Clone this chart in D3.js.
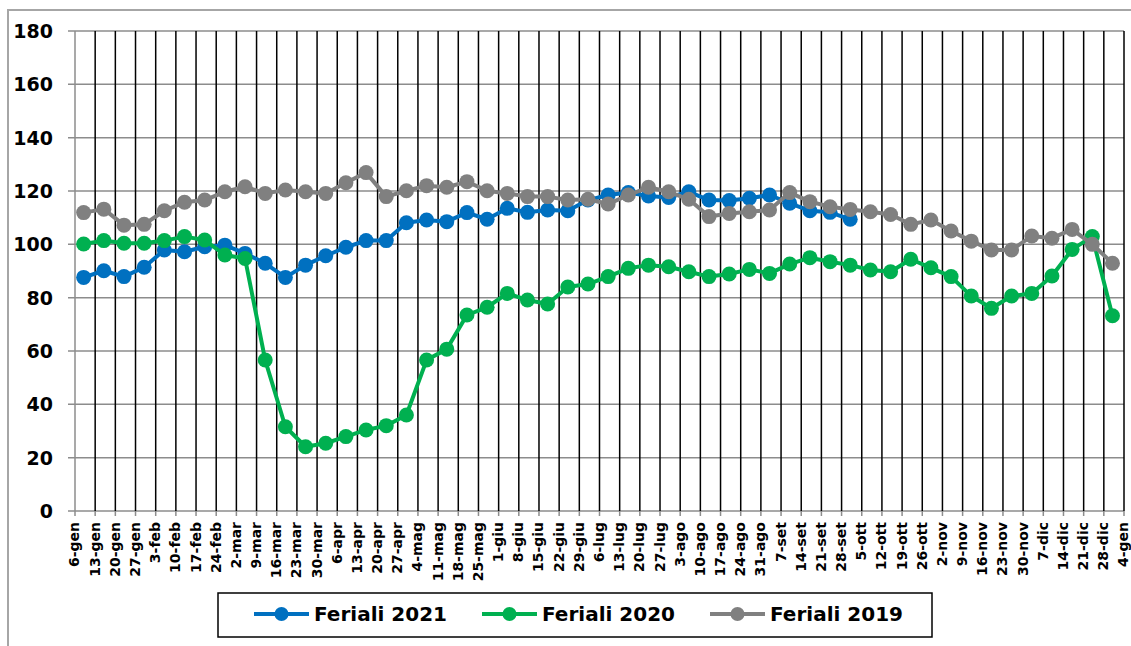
<!DOCTYPE html>
<html>
<head>
<meta charset="utf-8">
<script src="https://cdn.jsdelivr.net/npm/d3@7/dist/d3.min.js"></script>
<style>
body { margin: 0; background: #fff; }
svg { display: block; }
text { font-family: "DejaVu Sans", sans-serif; font-weight: bold; fill: #000; }
</style>
</head>
<body>
<svg id="chart"></svg>
<script>
var width = 1131,
    height = 646;

// week labels on the x axis
var weeks = ["6-gen","13-gen","20-gen","27-gen","3-feb","10-feb","17-feb","24-feb","2-mar","9-mar",
  "16-mar","23-mar","30-mar","6-apr","13-apr","20-apr","27-apr","4-mag","11-mag","18-mag","25-mag",
  "1-giu","8-giu","15-giu","22-giu","29-giu","6-lug","13-lug","20-lug","27-lug","3-ago","10-ago",
  "17-ago","24-ago","31-ago","7-set","14-set","21-set","28-set","5-ott","12-ott","19-ott","26-ott",
  "2-nov","9-nov","16-nov","23-nov","30-nov","7-dic","14-dic","21-dic","28-dic","4-gen"];

var yTicks = [0, 20, 40, 60, 80, 100, 120, 140, 160, 180];

var feriali2021 = [87.6, 90.1, 87.9, 91.4, 97.9, 97.2, 99.1, 99.7, 96.6, 92.9, 87.6, 92.2, 95.7,
  98.9, 101.4, 101.4, 108.1, 109.1, 108.5, 111.9, 109.4, 113.5, 112.0, 112.9, 112.6, 116.6, 118.5,
  119.4, 118.1, 117.6, 119.7, 116.6, 116.4, 117.3, 118.5, 115.4, 112.6, 112.0, 109.4];

var feriali2020 = [100.1, 101.4, 100.4, 100.4, 101.4, 102.9, 101.6, 96.0, 94.7, 56.6, 31.6, 24.1,
  25.4, 27.9, 30.4, 32.0, 36.0, 56.6, 60.7, 73.5, 76.4, 81.6, 79.1, 77.6, 84.0, 85.1, 87.9, 91.0,
  92.2, 91.6, 89.7, 87.9, 88.9, 90.6, 89.1, 92.6, 95.0, 93.5, 92.2, 90.4, 89.7, 94.4, 91.2, 87.9,
  80.6, 76.0, 80.6, 81.6, 88.1, 98.1, 102.9, 73.2];

var feriali2019 = [111.9, 113.2, 107.2, 107.5, 112.6, 115.8, 116.6, 119.7, 121.6, 119.1, 120.4,
  119.7, 119.1, 123.1, 126.9, 117.9, 120.1, 122.0, 121.4, 123.5, 120.1, 119.1, 117.9, 117.9, 116.6,
  116.9, 115.1, 118.5, 121.4, 119.7, 116.9, 110.4, 111.6, 112.2, 112.9, 119.4, 116.0, 114.1, 113.1,
  112.2, 111.2, 107.5, 109.1, 105.0, 101.2, 97.9, 97.9, 103.1, 102.3, 105.6, 100.0, 92.9];

var seriesNames = ["Feriali 2021", "Feriali 2020", "Feriali 2019"];
var seriesColors = ["#0070C0", "#00B050", "#808080"];
var seriesValues = [feriali2021, feriali2020, feriali2019];

// points sit 3 days after the monday of each week
var dayOffset = 3 / 7;

var margin = {left: 75, right: 7, top: 31, bottom: 135};

var svg = d3.select("#chart")
    .attr("width", width)
    .attr("height", height);

// outer chart border
svg.append("path")
    .attr("d", "M8," + height + "V10H" + width)
    .style("fill", "none")
    .style("stroke", "#a6a6a6")
    .style("stroke-width", 2);

var x = d3.scaleLinear()
    .domain([0, weeks.length - 1])
    .range([margin.left, width - margin.right]);

var y = d3.scaleLinear()
    .domain([0, 180])
    .range([height - margin.bottom, margin.top]);

var grid = svg.append("g");

// horizontal gridlines (extend left as ticks)
grid.selectAll("line.h")
    .data(yTicks)
    .enter()
    .append("line")
    .attr("class", "h")
    .attr("x1", x(0) - 7)
    .attr("x2", x(weeks.length - 1))
    .attr("y1", function(d) { return y(d); })
    .attr("y2", function(d) { return y(d); })
    .style("stroke", "#8c8c8c")
    .style("stroke-width", 1.5);

// vertical gridlines, one per week
grid.selectAll("line.v")
    .data(weeks)
    .enter()
    .append("line")
    .attr("class", "v")
    .attr("x1", function(d, i) { return x(i); })
    .attr("x2", function(d, i) { return x(i); })
    .attr("y1", y(180))
    .attr("y2", y(0))
    .style("stroke", function(d, i) { return i == 0 ? "#8c8c8c" : "#000"; })
    .style("stroke-width", 1.5);

// small ticks below the x axis
grid.selectAll("line.t")
    .data(weeks)
    .enter()
    .append("line")
    .attr("class", "t")
    .attr("x1", function(d, i) { return x(i); })
    .attr("x2", function(d, i) { return x(i); })
    .attr("y1", y(0))
    .attr("y2", y(0) + 5)
    .style("stroke", "#8c8c8c")
    .style("stroke-width", 1.5);

// y labels
svg.selectAll("text.ylab")
    .data(yTicks)
    .enter()
    .append("text")
    .attr("class", "ylab")
    .attr("x", 53)
    .attr("y", function(d) { return y(d); })
    .attr("dy", "0.36em")
    .style("text-anchor", "end")
    .style("font-size", "19px")
    .text(function(d) { return d; });

// x labels, rotated
svg.selectAll("text.xlab")
    .data(weeks)
    .enter()
    .append("text")
    .attr("class", "xlab")
    .attr("transform", function(d, i) {
        return "translate(" + x(i) + "," + (y(0) + 11) + ") rotate(-90)";
    })
    .attr("dy", "0.32em")
    .style("text-anchor", "end")
    .style("font-size", "14px")
    .text(function(d) { return d; });

var line = d3.line()
    .x(function(d, i) { return x(i + dayOffset); })
    .y(function(d) { return y(d); });

var series = svg.selectAll("g.series")
    .data(seriesValues)
    .enter()
    .append("g")
    .attr("class", "series");

series.append("path")
    .attr("d", function(d) { return line(d); })
    .style("fill", "none")
    .style("stroke", function(d, i) { return seriesColors[i]; })
    .style("stroke-width", 4)
    .style("stroke-linejoin", "round");

series.each(function(vals, k) {
    d3.select(this).selectAll("circle")
        .data(vals)
        .enter()
        .append("circle")
        .attr("cx", function(d, i) { return x(i + dayOffset); })
        .attr("cy", function(d) { return y(d); })
        .attr("r", 7.5)
        .style("fill", seriesColors[k]);
});

// legend
var legend = svg.append("g");

legend.append("rect")
    .attr("x", 218)
    .attr("y", 593)
    .attr("width", 714)
    .attr("height", 44)
    .style("fill", "#fff")
    .style("stroke", "#000")
    .style("stroke-width", 1.5);

var legendX = [254, 482, 710];

var item = legend.selectAll("g.item")
    .data(seriesNames)
    .enter()
    .append("g")
    .attr("class", "item")
    .attr("transform", function(d, i) { return "translate(" + legendX[i] + ",614)"; });

item.append("line")
    .attr("x1", 0)
    .attr("x2", 55)
    .style("stroke", function(d, i) { return seriesColors[i]; })
    .style("stroke-width", 4);

item.append("circle")
    .attr("cx", 27.5)
    .attr("r", 7)
    .style("fill", function(d, i) { return seriesColors[i]; });

item.append("text")
    .attr("x", 60)
    .attr("dy", "0.36em")
    .style("font-size", "20px")
    .text(function(d) { return d; });
</script>
</body>
</html>
